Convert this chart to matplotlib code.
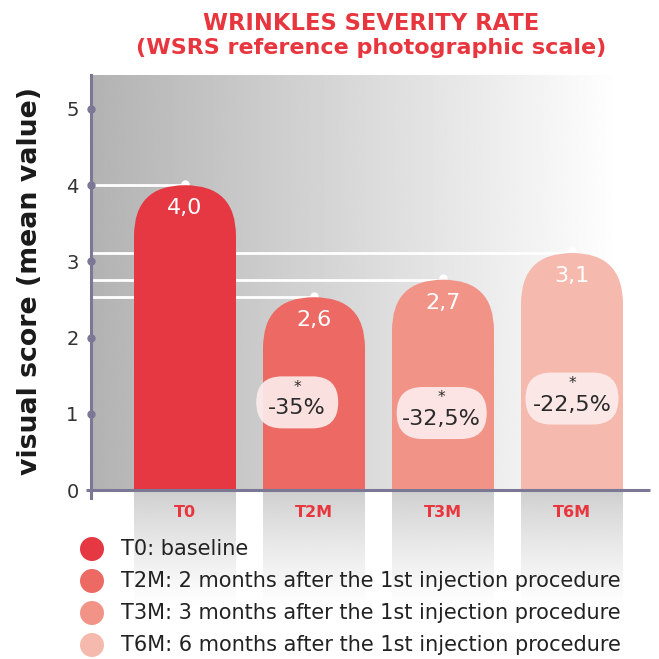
import numpy as np
import matplotlib
matplotlib.use("Agg")
import matplotlib.pyplot as plt
from matplotlib.patches import FancyBboxPatch, Rectangle, Circle
from matplotlib.colors import LinearSegmentedColormap

plt.rcParams["font.family"] = ["DejaVu Sans"]

# data
categories = ["T0", "T2M", "T3M", "T6M"]
bar_heights = [4.0, 2.53, 2.76, 3.11]   # as drawn in the picture
value_labels = ["4,0", "2,6", "2,7", "3,1"]
change_labels = [None, "-35%", "-32,5%", "-22,5%"]
change_y = [None, 1.15, 1.01, 1.20]
legend_labels = [
    "T0: baseline",
    "T2M: 2 months after the 1st injection procedure",
    "T3M: 3 months after the 1st injection procedure",
    "T6M: 6 months after the 1st injection procedure",
]
colors = ["#e63843", "#ec6964", "#f19487", "#f6b9ad"]

RED = "#e8363f"
AXC = "#7b7896"

W = H = 659
fig = plt.figure(figsize=(W / 100, H / 100), dpi=100)
ax_l, ax_r, ax_t, ax_b = 91, 650, 75, 490
ax = fig.add_axes([ax_l / W, 1 - ax_b / H, (ax_r - ax_l) / W, (ax_b - ax_t) / H])

px_x = 129.0   # pixels per x unit
px_y = 76.2    # pixels per y unit
x0 = -(185 - ax_l) / px_x
x1 = x0 + (ax_r - ax_l) / px_x
ytop = (ax_b - ax_t) / px_y
aspect = px_x / px_y
gray = LinearSegmentedColormap.from_list("g", ["black", "white"])
bw = 102 / px_x
xpos = np.arange(len(categories))

# grey boxes under the axis (separate axes below the main one)
under_h = 115
ax2 = fig.add_axes([ax_l / W, 1 - (ax_b + under_h) / H, (ax_r - ax_l) / W, under_h / H],
                   zorder=-1)
ax2.axis("off")
fade = (0.80 + 0.20 * np.linspace(0, 1, 200) ** 0.8).reshape(-1, 1)
for x in xpos:
    ax2.imshow(fade, cmap=gray, vmin=0, vmax=1, extent=(x - bw / 2, x + bw / 2, 0, 1),
               aspect="auto", interpolation="bilinear")
ax2.set_xlim(x0, x1)
ax2.set_ylim(0, 1)

# background gradient
xs = np.linspace(0, 1, 400)
g = np.clip(0.70 + 0.30 * xs / ((620 - ax_l) / (ax_r - ax_l)), 0, 1)
ax.imshow(np.tile(g, (2, 1)), cmap=gray, vmin=0, vmax=1, extent=(x0, x1, 0, ytop),
          aspect="auto", zorder=0, interpolation="bilinear")
ax.set_xlim(x0, x1)
ax.set_ylim(0, ytop)

# guide lines to bar tops
for x, h in zip(xpos, bar_heights):
    ax.plot([x0, x], [h, h], color="white", lw=2, zorder=1, solid_capstyle="butt")
    ax.plot(x, h + 0.02, "o", color="white", ms=5, zorder=1)

# rounded-top bars
r = bw / 2
for x, h, c in zip(xpos, bar_heights, colors):
    ax.add_patch(FancyBboxPatch((x - bw / 2, 0), bw, h,
                                boxstyle=f"round,pad=0,rounding_size={r}",
                                mutation_aspect=aspect, fc=c, ec="none", zorder=2))
    ax.add_patch(Rectangle((x - bw / 2, 0), bw, h - r * aspect, fc=c, ec="none", zorder=2))

for x, h, lab in zip(xpos, bar_heights, value_labels):
    ax.text(x, h - 0.3, lab, color="white", fontsize=16, ha="center", va="center", zorder=4)

# change pills
pill_dx = [0, -0.13, -0.01, 0.0]
pill_w = [0, 82, 90, 93]
ph = 52 / px_y
for x, lab, yc, dx, pw in zip(xpos, change_labels, change_y, pill_dx, pill_w):
    if lab is None:
        continue
    w = pw / px_x
    cx = x + dx
    ax.add_patch(FancyBboxPatch((cx - w / 2, yc - ph / 2), w, ph,
                                boxstyle=f"round,pad=0,rounding_size={ph / aspect / 2}",
                                mutation_aspect=aspect, fc="#fcecec", ec="none",
                                alpha=0.92, zorder=3))
    ax.text(cx, yc + 0.2, "*", fontsize=11, ha="center", va="center", color="#2a2a2a", zorder=4)
    ax.text(cx, yc - 0.08, lab, fontsize=16, ha="center", va="center", color="#2a2a2a", zorder=4)

# axes lines
for s in ax.spines.values():
    s.set_visible(False)
ax.plot([x0, x0], [-8 / px_y, ytop], color=AXC, lw=2.2, clip_on=False, zorder=5)
ax.plot([x0 - 5 / px_x, x1], [0, 0], color=AXC, lw=2.2, clip_on=False, zorder=5,
        solid_capstyle="butt")
ax.plot([x0] * 5, [1, 2, 3, 4, 5], "o", color=AXC, ms=5, clip_on=False, zorder=6)

ax.set_yticks(range(6))
ax.tick_params(axis="y", length=0, pad=9, labelsize=14, labelcolor="#333333")
ax.set_xticks(xpos, categories)
ax.tick_params(axis="x", length=0, pad=11, labelsize=11.5, labelcolor=RED)
for t in ax.get_xticklabels():
    t.set_fontweight("bold")

fig.text(30 / W, 1 - 281 / H, "visual score (mean value)", rotation=90, fontsize=19.3,
         fontweight="bold", color="#1a1a1a", ha="center", va="center")

# title
fig.text(371 / W, 1 - 23 / H, "WRINKLES SEVERITY RATE", fontsize=16.3, fontweight="bold",
         color=RED, ha="center", va="center")
fig.text(371 / W, 1 - 48 / H, "(WSRS reference photographic scale)", fontsize=16,
         fontweight="bold", color=RED, ha="center", va="center")

# legend
for i, (lab, c) in enumerate(zip(legend_labels, colors)):
    yy = 1 - (549 + 32 * i) / H
    fig.add_artist(Circle((92 / W, yy), 12 / W, transform=fig.transFigure, fc=c, ec="none"))
    fig.text(121 / W, yy, lab, fontsize=15, color="#222222", ha="left", va="center")

fig.savefig("out.png", dpi=100)
